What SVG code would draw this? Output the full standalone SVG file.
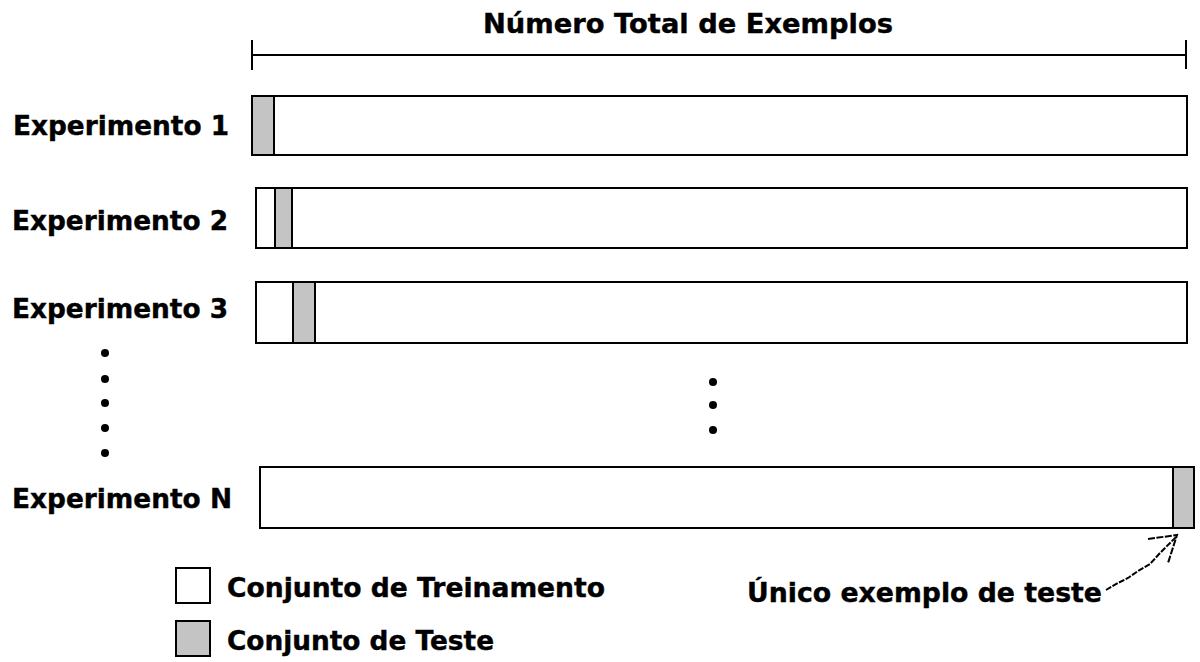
<svg xmlns="http://www.w3.org/2000/svg" width="1200" height="662" viewBox="0 0 1200 662">
<style>
.t{font-family:"DejaVu Sans","Liberation Sans",sans-serif;font-weight:bold;fill:#000;stroke:#000;stroke-width:0.4;}
.bar{fill:#fff;stroke:#000;stroke-width:2;}
.test{fill:#c4c4c4;stroke:#000;stroke-width:2;}
.ln{stroke:#000;stroke-width:2;fill:none;}
.dot{fill:#000;}
</style>
<rect width="1200" height="662" fill="#fff"/>
<g id="title">
<text class="t" x="483" y="33" font-size="27" textLength="410" lengthAdjust="spacingAndGlyphs">Número Total de Exemplos</text>
<line class="ln" x1="252" y1="55" x2="1186" y2="55" stroke="#555"/>
<line class="ln" x1="252" y1="40" x2="252" y2="70"/>
<line class="ln" x1="1186" y1="40" x2="1186" y2="69"/>
</g>
<g id="exp1">
<text class="t" x="13" y="135" font-size="26" textLength="216" lengthAdjust="spacingAndGlyphs">Experimento 1</text>
<rect class="bar" x="252" y="96" width="935" height="59"/>
<rect class="test" x="252" y="96" width="22" height="59"/>
</g>
<g id="exp2">
<text class="t" x="12" y="230" font-size="26" textLength="216" lengthAdjust="spacingAndGlyphs">Experimento 2</text>
<rect class="bar" x="256" y="188" width="931" height="60"/>
<rect class="test" x="275" y="188" width="17" height="60"/>
</g>
<g id="exp3">
<text class="t" x="12" y="318" font-size="26" textLength="216" lengthAdjust="spacingAndGlyphs">Experimento 3</text>
<rect class="bar" x="256" y="282" width="931" height="61"/>
<rect class="test" x="293" y="282" width="22" height="61"/>
</g>
<g id="dots-left">
<circle class="dot" cx="105" cy="353" r="4"/>
<circle class="dot" cx="105" cy="379" r="4"/>
<circle class="dot" cx="105" cy="403" r="4"/>
<circle class="dot" cx="105" cy="428" r="4"/>
<circle class="dot" cx="105" cy="453" r="4"/>
</g>
<g id="dots-mid">
<circle class="dot" cx="713" cy="382" r="4"/>
<circle class="dot" cx="713" cy="405" r="4"/>
<circle class="dot" cx="713" cy="430" r="4"/>
</g>
<g id="expN">
<text class="t" x="12" y="508" font-size="26" textLength="220" lengthAdjust="spacingAndGlyphs">Experimento N</text>
<rect class="bar" x="260" y="467" width="934" height="61"/>
<rect class="test" x="1173" y="467" width="21" height="61"/>
</g>
<g id="legend">
<rect class="bar" x="176" y="568" width="34" height="35" stroke-width="1.5"/>
<text class="t" x="227" y="597" font-size="26" textLength="378" lengthAdjust="spacingAndGlyphs">Conjunto de Treinamento</text>
<rect class="test" x="176" y="621" width="34" height="35" stroke-width="1.5"/>
<text class="t" x="227" y="650" font-size="26" textLength="267" lengthAdjust="spacingAndGlyphs">Conjunto de Teste</text>
</g>
<g id="note">
<text class="t" x="747" y="602" font-size="26" textLength="355" lengthAdjust="spacingAndGlyphs">Único exemplo de teste</text>
</g>
<g id="connectors">
<path class="ln" d="M1106,590 L1118,583 L1128,578 L1138,571 L1150,564 L1160,553 L1177,536" stroke-width="1.5" stroke-dasharray="6,1.5"/>
<path class="ln" d="M1148,539 L1177,535 L1168,563" stroke-width="1.5" stroke-dasharray="7,1.5"/>
</g>
</svg>
